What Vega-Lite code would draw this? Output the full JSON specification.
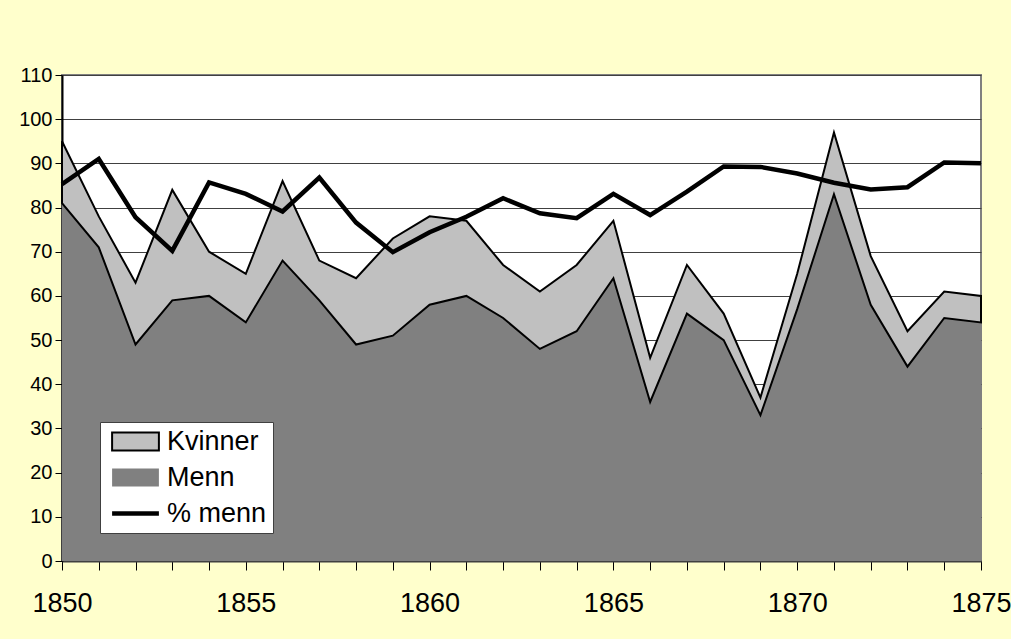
{
  "$schema": "https://vega.github.io/schema/vega-lite/v6.json",
  "width": 919,
  "height": 486,
  "autosize": {"type": "none"},
  "padding": {"left": 62, "top": 75, "right": 30, "bottom": 78},
  "background": "#FFFFCC",
  "config": {
    "font": "Liberation Sans",
    "view": {"fill": "white", "stroke": "#808080", "strokeWidth": 2},
    "legend": {
      "title": null,
      "orient": "none",
      "legendX": 38,
      "legendY": 347,
      "fillColor": "white",
      "strokeColor": "#404040",
      "padding": 6,
      "rowPadding": 8,
      "labelFontSize": 27,
      "labelColor": "black",
      "labelOffset": 18,
      "symbolOffset": 16,
      "symbolSize": 324,
      "symbolStrokeWidth": 2,
      "symbolType": "M-2.6,-1H2.6V1H-2.6Z"
    }
  },
  "data": {
    "values": [
      {"year": 1850, "Menn": 81, "Kvinner": 14, "pct": 85.3},
      {"year": 1851, "Menn": 71, "Kvinner": 7, "pct": 91.0},
      {"year": 1852, "Menn": 49, "Kvinner": 14, "pct": 77.8},
      {"year": 1853, "Menn": 59, "Kvinner": 25, "pct": 70.2},
      {"year": 1854, "Menn": 60, "Kvinner": 10, "pct": 85.7},
      {"year": 1855, "Menn": 54, "Kvinner": 11, "pct": 83.1},
      {"year": 1856, "Menn": 68, "Kvinner": 18, "pct": 79.1},
      {"year": 1857, "Menn": 59, "Kvinner": 9, "pct": 86.8},
      {"year": 1858, "Menn": 49, "Kvinner": 15, "pct": 76.6},
      {"year": 1859, "Menn": 51, "Kvinner": 22, "pct": 69.9},
      {"year": 1860, "Menn": 58, "Kvinner": 20, "pct": 74.4},
      {"year": 1861, "Menn": 60, "Kvinner": 17, "pct": 77.9},
      {"year": 1862, "Menn": 55, "Kvinner": 12, "pct": 82.1},
      {"year": 1863, "Menn": 48, "Kvinner": 13, "pct": 78.7},
      {"year": 1864, "Menn": 52, "Kvinner": 15, "pct": 77.6},
      {"year": 1865, "Menn": 64, "Kvinner": 13, "pct": 83.1},
      {"year": 1866, "Menn": 36, "Kvinner": 10, "pct": 78.3},
      {"year": 1867, "Menn": 56, "Kvinner": 11, "pct": 83.6},
      {"year": 1868, "Menn": 50, "Kvinner": 6, "pct": 89.3},
      {"year": 1869, "Menn": 33, "Kvinner": 4, "pct": 89.2},
      {"year": 1870, "Menn": 57, "Kvinner": 8, "pct": 87.7},
      {"year": 1871, "Menn": 83, "Kvinner": 14, "pct": 85.6},
      {"year": 1872, "Menn": 58, "Kvinner": 11, "pct": 84.1},
      {"year": 1873, "Menn": 44, "Kvinner": 8, "pct": 84.6},
      {"year": 1874, "Menn": 55, "Kvinner": 6, "pct": 90.2},
      {"year": 1875, "Menn": 54, "Kvinner": 6, "pct": 90.0}
    ]
  },
  "encoding": {
    "x": {
      "field": "year",
      "type": "quantitative",
      "scale": {"domain": [1850, 1875], "nice": false, "zero": false},
      "axis": {
        "title": null,
        "values": [1850,1851,1852,1853,1854,1855,1856,1857,1858,1859,1860,1861,1862,1863,1864,1865,1866,1867,1868,1869,1870,1871,1872,1873,1874,1875],
        "labelExpr": "datum.value % 5 === 0 ? '' + datum.value : ''",
        "labelOverlap": false,
        "labelFlush": false,
        "labelFontSize": 27,
        "labelColor": "black",
        "labelPadding": 20,
        "tickSize": 9,
        "tickColor": "black",
        "tickWidth": 1,
        "domainColor": "#404040",
        "domainWidth": 2,
        "grid": false
      }
    }
  },
  "layer": [
    {
      "transform": [{"fold": ["Menn", "Kvinner"], "as": ["series", "value"]}],
      "mark": {"type": "area", "strokeWidth": 2, "strokeJoin": "miter", "opacity": 1},
      "encoding": {
        "y": {
          "field": "value",
          "type": "quantitative",
          "stack": "zero",
          "scale": {"domain": [0, 110], "nice": false},
          "axis": {
            "title": null,
            "values": [0,10,20,30,40,50,60,70,80,90,100,110],
            "grid": true,
            "gridColor": "#404040",
            "gridWidth": 1,
            "tickSize": 7,
            "tickColor": "black",
            "labelFontSize": 20,
            "labelColor": "black",
            "labelPadding": 3,
            "domainColor": "black",
            "domainWidth": 2
          }
        },
        "order": {"field": "series", "sort": "descending"},
        "fill": {
          "field": "series",
          "type": "nominal",
          "scale": {"domain": ["Kvinner", "Menn", "% menn"], "range": ["#C0C0C0", "#808080", "transparent"]},
          "legend": {
            "encode": {
              "symbols": {
                "update": {
                  "shape": {"signal": "datum.value === '% menn' ? 'M-2.6,0H2.6' : 'M-2.6,-1H2.6V1H-2.6Z'"},
                  "strokeWidth": {"signal": "datum.value === '% menn' ? 4.5 : 2"},
                  "opacity": {"value": 1},
                  "fillOpacity": {"value": 1},
                  "strokeOpacity": {"value": 1}
                }
              }
            }
          }
        },
        "stroke": {
          "field": "series",
          "type": "nominal",
          "scale": {"domain": ["Kvinner", "Menn", "% menn"], "range": ["#000000", "transparent", "#000000"]},
          "legend": {
            "encode": {
              "symbols": {
                "update": {
                  "shape": {"signal": "datum.value === '% menn' ? 'M-2.6,0H2.6' : 'M-2.6,-1H2.6V1H-2.6Z'"},
                  "strokeWidth": {"signal": "datum.value === '% menn' ? 4.5 : 2"},
                  "opacity": {"value": 1},
                  "fillOpacity": {"value": 1},
                  "strokeOpacity": {"value": 1}
                }
              }
            }
          }
        }
      }
    },
    {
      "mark": {"type": "line", "strokeWidth": 4.5, "strokeJoin": "miter"},
      "encoding": {
        "y": {"field": "pct", "type": "quantitative"},
        "stroke": {
          "datum": "% menn",
          "legend": {
            "encode": {
              "symbols": {
                "update": {
                  "shape": {"signal": "datum.value === '% menn' ? 'M-2.6,0H2.6' : 'M-2.6,-1H2.6V1H-2.6Z'"},
                  "strokeWidth": {"signal": "datum.value === '% menn' ? 4.5 : 2"},
                  "opacity": {"value": 1},
                  "fillOpacity": {"value": 1},
                  "strokeOpacity": {"value": 1}
                }
              }
            }
          }
        }
      }
    }
  ]
}
